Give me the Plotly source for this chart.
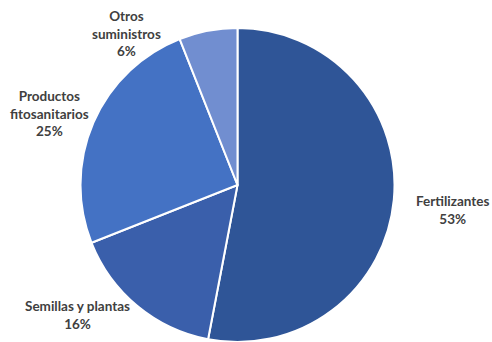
import plotly.graph_objects as go

labels = ["Fertilizantes", "Semillas y plantas", "Productos fitosanitarios", "Otros suministros"]
label_lines = ["Fertilizantes", "Semillas y plantas", "Productos<br>fitosanitarios", "Otros<br>suministros"]
values = [53, 16, 25, 6]
colors = ["#2F5597", "#3A5FAB", "#4472C4", "#718ED0"]

W, H = 492, 342
# label anchor positions (pixels, center of text block)
label_pos = [(453, 210), (77, 315), (49, 114), (126, 34)]

cx, cy, r = 237.5, 185, 157
fig = go.Figure(go.Pie(
    labels=labels, values=values, sort=False, direction="clockwise", rotation=0,
    marker=dict(colors=colors, line=dict(color="white", width=2)),
    textinfo="none", hoverinfo="label+percent",
    domain=dict(x=[(cx - r) / W, (cx + r) / W],
                y=[max(0.0, (H - cy - r) / H), min(1.0, (H - cy + r) / H)]),
    showlegend=False,
))

annotations = []
for txt, v, (px, py) in zip(label_lines, values, label_pos):
    annotations.append(dict(
        x=px / W, y=1 - py / H, xref="paper", yref="paper",
        text=f"{txt}<br>{v}%", showarrow=False, align="center",
        xanchor="center", yanchor="middle",
        font=dict(family="Lato", size=13.5, color="#404040", weight="bold"),
    ))

fig.update_layout(
    width=W, height=H, margin=dict(l=0, r=0, t=0, b=0),
    paper_bgcolor="white", plot_bgcolor="white",
    annotations=annotations,
)
fig.write_html(
    "out.html",
    config={"displayModeBar": False},
    post_script="document.body.style.margin='0';document.body.style.overflow='hidden';",
)
